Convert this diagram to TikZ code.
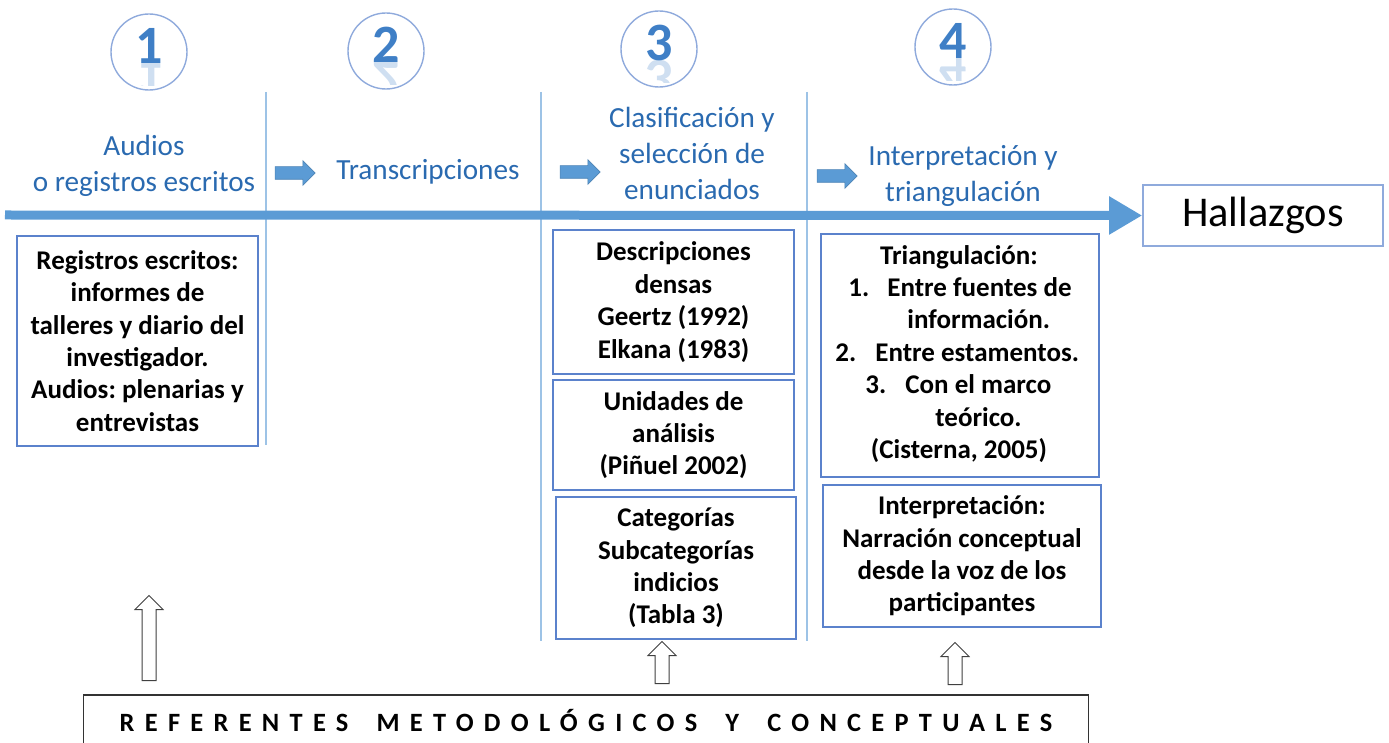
\documentclass[tikz,border=0pt]{standalone}
\usepackage{fontspec}
\setmainfont{Carlito}
\usetikzlibrary{arrows.meta,shapes.arrows}
\definecolor{hdrblue}{HTML}{2A6AB0}
\definecolor{arrblue}{HTML}{5B9BD5}
\definecolor{boxblue}{HTML}{5B82CC}
\definecolor{lineblue}{HTML}{9DC3E6}
\definecolor{circblue}{HTML}{8FAADC}
\definecolor{digblue}{HTML}{3F7FC6}
\frenchspacing
\begin{document}
\begin{tikzpicture}[x=0.5pt,y=-0.5pt,
  hdr/.style={text=hdrblue,font=\fontsize{14.6}{18}\selectfont,align=center,inner sep=0pt},
  bx/.style={draw=boxblue,line width=0.7pt,fill=white,inner sep=0pt,align=center,
    font=\fontsize{13.5}{16.2}\selectfont\bfseries},
  ln/.style={inner sep=0pt,font=\fontsize{13.5}{16.2}\selectfont\bfseries},
  sepline/.style={draw=lineblue,line width=0.8pt},
  blk/.style={single arrow,fill=arrblue,draw=arrblue!85!black,line width=0.3pt,inner xsep=0pt,
    inner ysep=3pt,single arrow head extend=3pt,minimum height=20pt},
  hollow/.style={single arrow,shape border rotate=90,fill=white,draw=black!75,line width=0.5pt,
    inner sep=3.25pt,single arrow head extend=3.5pt},
  circ/.style={circle,draw=circblue,line width=0.7pt,minimum size=38pt,inner sep=0pt},
  dig/.style={text=digblue,font=\fontsize{27}{30}\selectfont\bfseries,inner sep=0pt},
  mainarrow/.style={draw=arrblue,line width=4.5pt,-{Triangle[length=16.5pt,width=18pt]}}
]
\useasboundingbox (0,0) rectangle (1389,743);

% number circles
\foreach \n/\cx/\cy in {1/149/52,2/386/51,3/659/49,4/953/47}{
  \node[circ] (c\n) at (\cx,\cy) {};
  \node[dig,anchor=base] (d\n) at (\cx,\cy+12) {\n};
  \begin{scope}
    \clip (\cx-40,\cy+12) rectangle (\cx+40,\cy+34);
    \clip (\cx,\cy) circle [radius=18.5pt];
    \node[dig,anchor=base,yscale=-1,opacity=0.25] (r\n) at (\cx,\cy+12) {\n};
  \end{scope}
}

% separators
\draw[sepline] (266,92) -- (266,445);
\draw[sepline] (541,92) -- (541,641);
\draw[sepline] (807,92) -- (807,641);

% headers
\node[hdr] (h1) at (144,166) {Audios\\o registros escritos};
\node[hdr] (h2) at (428,172) {Transcripciones};
\node[hdr] (h3) at (692,153) {Clasificación y\\selección de\\enunciados};
\node[hdr] (h4) at (963,176) {Interpretación y\\triangulación};

% block arrows
\node[blk] (ba1) at (292,173) {};
\node[blk] (ba2) at (577,172) {};
\node[blk] (ba3) at (834,176) {};

% hallazgos and main arrow
\node[draw=circblue,line width=0.8pt,minimum width=120pt,minimum height=30.5pt,inner sep=0pt,
  font=\fontsize{21.2}{24}\selectfont] (hall) at (1263,215.5) {Hallazgos};
\coordinate (st) at (5,215);
\draw[mainarrow] (st) -- (hall.west);

% boxes
\node[bx,minimum width=120.5pt,minimum height=105pt] (b1) at (137.5,341)
  {Registros escritos:\\informes de\\talleres y diario del\\investigador.\\Audios: plenarias y\\entrevistas};
\node[bx,minimum width=120.5pt,minimum height=72pt] (b3a) at (673.5,302)
  {Descripciones\\densas\\Geertz (1992)\\Elkana (1983)};
\node[bx,minimum width=120.5pt,minimum height=55pt] (b3b) at (673.5,435)
  {Unidades de\\análisis\\(Piñuel 2002)};
\node[bx,minimum width=120pt,minimum height=71pt] (b3c) at (676,568)
  {Categorías\\Subcategorías\\indicios\\(Tabla 3)};
\node[bx,minimum width=139pt,minimum height=121.5pt] (b4a) at (960,355.5) {};
\node[bx,minimum width=139pt,minimum height=71pt] (b4b) at (962,556)
  {Interpretación:\\Narración conceptual\\desde la voz de los\\participantes};

% box 4a lines
\node[ln,anchor=base] (l1) at (959,265) {Triangulación:};
\node[ln,anchor=base west] (l2a) at (848,297) {1.};
\node[ln,anchor=base west] (l2b) at (887,297) {Entre fuentes de};
\node[ln,anchor=base west] (l3) at (907,329) {información.};
\node[ln,anchor=base west] (l4a) at (835,362) {2.};
\node[ln,anchor=base west] (l4b) at (875,362) {Entre estamentos.};
\node[ln,anchor=base west] (l5a) at (865,394) {3.};
\node[ln,anchor=base west] (l5b) at (905,394) {Con el marco};
\node[ln,anchor=base west] (l6) at (935,427) {teórico.};
\node[ln,anchor=base] (l7) at (959,459) {(Cisterna, 2005)};

% bottom box
\node[draw=black!80,line width=0.7pt,minimum width=502.5pt,minimum height=26pt,inner sep=0pt,
  font=\fontsize{13.2}{16}\selectfont\bfseries\addfontfeature{LetterSpace=39}] (ref) at (586,721)
  {REFERENTES\hspace{0.45em} METODOLÓGICOS\hspace{0.45em} Y\hspace{0.45em} CONCEPTUALES};

% hollow arrows
\node[hollow,minimum height=42.5pt] (ha1) at (149,641.5) {};
\node[hollow,minimum height=21pt] (ha2) at (662,666) {};
\node[hollow,minimum height=21pt] (ha3) at (955,667) {};
\end{tikzpicture}
\end{document}
